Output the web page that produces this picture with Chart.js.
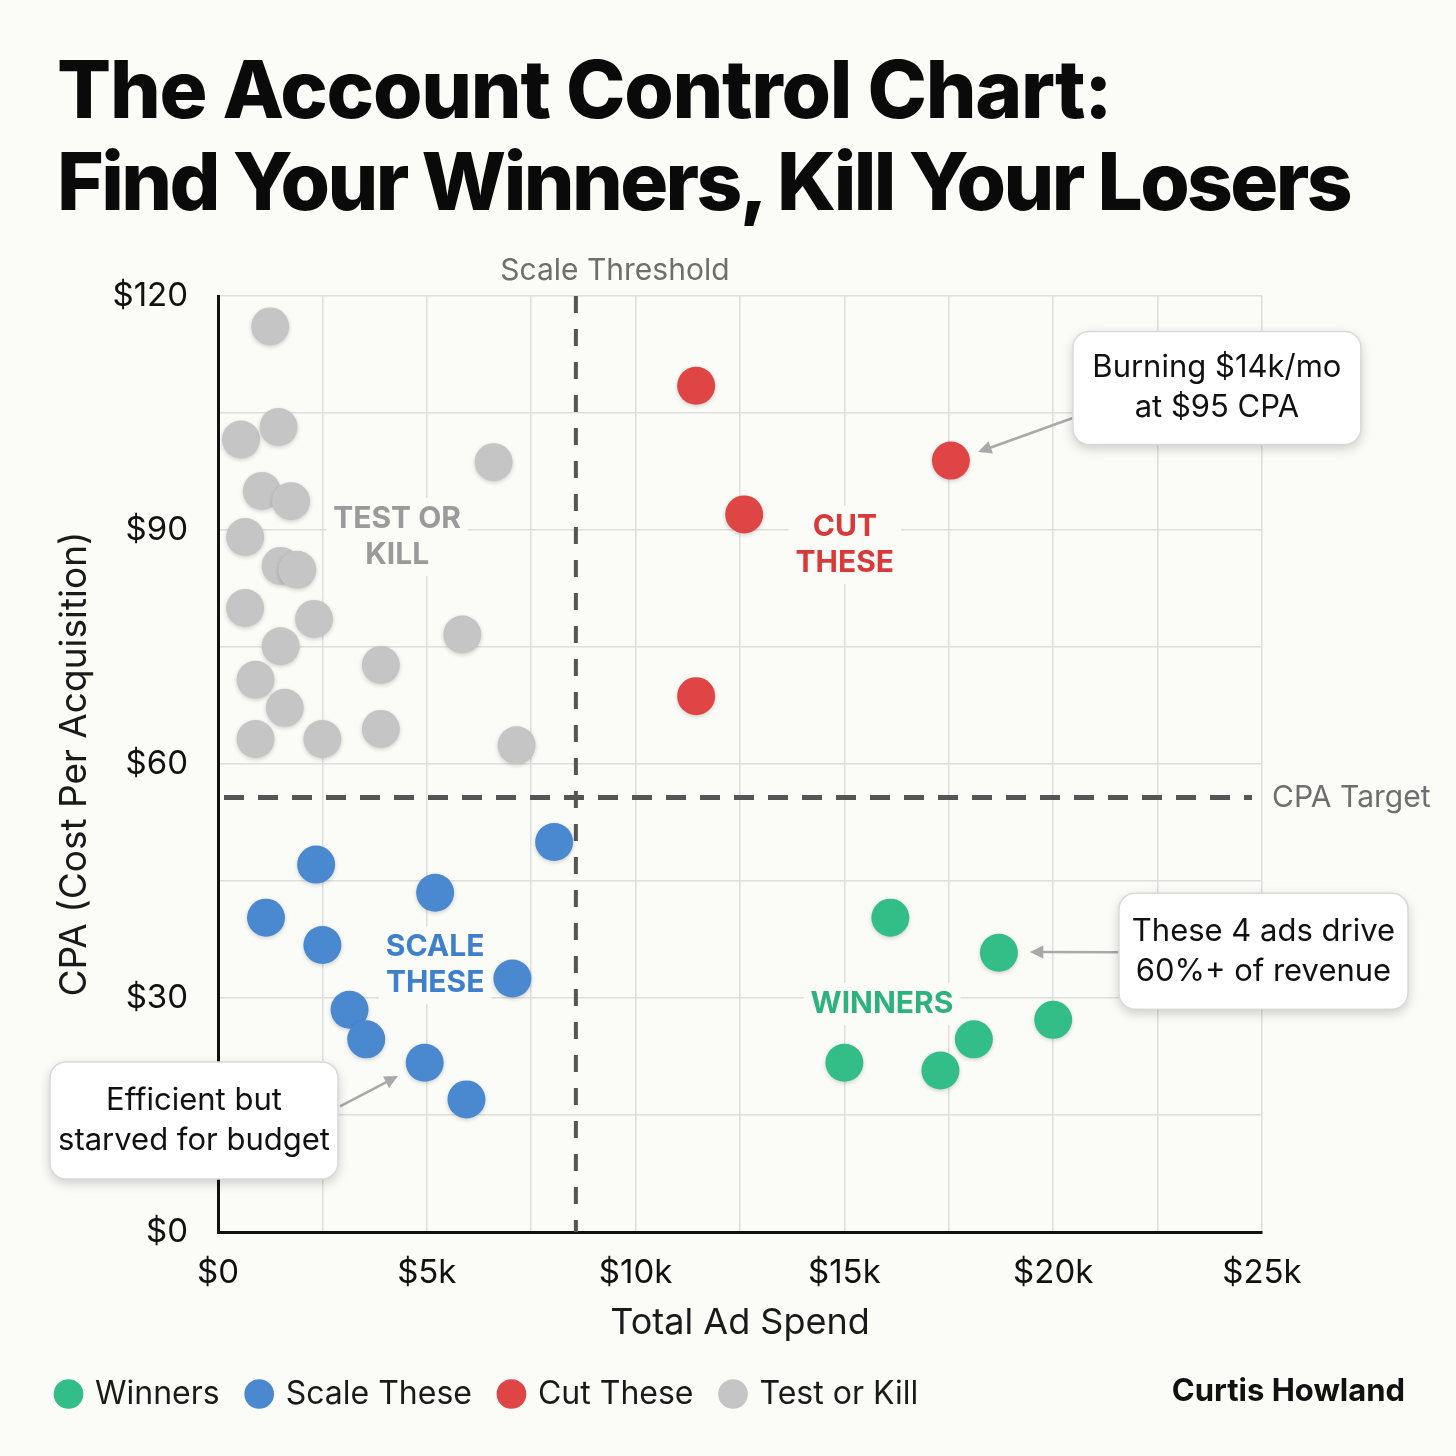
<!DOCTYPE html>
<html>
<head>
<meta charset="utf-8">
<script src="https://cdn.jsdelivr.net/npm/chart.js@4.4.1/dist/chart.umd.min.js"></script>
<style>
  html, body { margin: 0; padding: 0; background: #fbfbf8; }
  #wrap { position: relative; width: 1456px; height: 1456px; }
  h1 {
    position: absolute; left: 57px; top: 43px; margin: 0;
    font-family: Inter, "Noto Sans", sans-serif; font-weight: 800;
    font-size: 80px; line-height: 92px; color: #0a0a0a;
  }
  h1 span { display: block; white-space: nowrap; }
  h1 .l1 { letter-spacing: -1.25px; }
  h1 .l2 { letter-spacing: -2.6px; }
  canvas { position: absolute; left: 0; top: 0; }
</style>
</head>
<body>
<div id="wrap">
  <h1><span class="l1">The Account Control Chart:</span><span class="l2">Find Your Winners, Kill Your Losers</span></h1>
  <canvas id="controlChart" width="1456" height="1456"></canvas>
</div>
<script>
// ad spend ($) and CPA ($) per ad, by group
const winnersSpend = [16100, 18700, 20000, 18100, 15000, 17300];
const winnersCpa = [40.3, 35.8, 27.2, 24.7, 21.7, 20.7];

const scaleSpend = [8050, 2350, 5200, 1150, 2500, 7050, 3150, 3550, 4950, 5950];
const scaleCpa = [50.0, 47.1, 43.5, 40.3, 36.8, 32.5, 28.5, 24.7, 21.7, 17.0];

const cutSpend = [11450, 17550, 12600, 11450];
const cutCpa = [108.5, 98.9, 92.0, 68.7];

const testSpend = [1250, 550, 1450, 6600, 1050, 1750, 650, 1500, 1900, 650,
                   2300, 5850, 1500, 3900, 900, 1600, 900, 2500, 3900, 7150];
const testCpa = [116.1, 101.6, 103.2, 98.7, 95.0, 93.7, 89.1, 85.4, 84.9, 80.0,
                 78.6, 76.6, 75.1, 72.7, 70.8, 67.2, 63.2, 63.2, 64.5, 62.4];

const groupNames = ["Winners", "Scale These", "Cut These", "Test or Kill"];
const groupColors = ["#34be87", "#4a89d0", "#e04545", "#c5c5c5"];

const scaleThreshold = 8570;
const cpaTarget = 55.7;

const spendTicks = [0, 5000, 10000, 15000, 20000, 25000];
const cpaTicks = [0, 30, 60, 90, 120];

const FONT = "Inter, 'Noto Sans', sans-serif";
const BG = "#fbfbf8";

const toPoints = (xs, ys) => xs.map((x, i) => ({ x: x, y: ys[i] }));

// quadrant labels and callouts, anchored in data units
const zoneLabels = [
    { lines: ["TEST OR", "KILL"], at: [4290, 89.1], color: "#9a9a9a" },
    { lines: ["CUT", "THESE"], at: [15010, 88.1], color: "#d83a3a" },
    { lines: ["SCALE", "THESE"], at: [5200, 34.2], color: "#3f80cc" },
    { lines: ["WINNERS"], at: [15900, 29.2], color: "#2db27e" },
];

const callouts = [
    { lines: ["Burning $14k/mo", "at $95 CPA"], at: [23920, 108.2], w: 288, h: 113, from: [-144, 30], to: [18200, 100.0] },
    { lines: ["These 4 ads drive", "60%+ of revenue"], at: [25035, 36.0], w: 289, h: 116, from: [-145, 1], to: [19440, 35.9] },
    { lines: ["Efficient but", "starved for budget"], at: [-575, 14.3], w: 288, h: 117, from: [146, -14], to: [4310, 20.0] },
];

function px(chart, x, y) {
    return [chart.scales.x.getPixelForValue(x), chart.scales.y.getPixelForValue(y)];
}

function roundRect(ctx, x, y, w, h, r) {
    ctx.beginPath();
    ctx.moveTo(x + r, y);
    ctx.arcTo(x + w, y, x + w, y + h, r);
    ctx.arcTo(x + w, y + h, x, y + h, r);
    ctx.arcTo(x, y + h, x, y, r);
    ctx.arcTo(x, y, x + w, y, r);
    ctx.closePath();
}

function arrow(ctx, x1, y1, x2, y2) {
    const a = Math.atan2(y2 - y1, x2 - x1);
    const head = 15;
    ctx.strokeStyle = "#a9a9a9";
    ctx.fillStyle = "#a9a9a9";
    ctx.lineWidth = 2.5;
    ctx.beginPath();
    ctx.moveTo(x1, y1);
    ctx.lineTo(x2 - Math.cos(a) * head * 0.8, y2 - Math.sin(a) * head * 0.8);
    ctx.stroke();
    ctx.beginPath();
    ctx.moveTo(x2, y2);
    ctx.lineTo(x2 - head * Math.cos(a - 0.45), y2 - head * Math.sin(a - 0.45));
    ctx.lineTo(x2 - head * Math.cos(a + 0.45), y2 - head * Math.sin(a + 0.45));
    ctx.closePath();
    ctx.fill();
}

const guidesPlugin = {
    id: "guides",
    beforeDatasetsDraw(chart) {
        const { ctx, chartArea } = chart;
        const tx = chart.scales.x.getPixelForValue(scaleThreshold);
        const ty = chart.scales.y.getPixelForValue(cpaTarget);
        ctx.save();
        ctx.strokeStyle = "#555555";
        ctx.lineWidth = 5;

        ctx.setLineDash([20, 14]);
        ctx.beginPath();
        ctx.moveTo(chartArea.left + 6, ty);
        ctx.lineTo(chartArea.right - 10, ty);
        ctx.stroke();

        ctx.lineWidth = 4;
        ctx.setLineDash([17, 16]);
        ctx.beginPath();
        ctx.moveTo(tx, chartArea.top);
        ctx.lineTo(tx, chartArea.bottom);
        ctx.stroke();
        ctx.setLineDash([]);

        ctx.fillStyle = "#6e6e6e";
        ctx.font = "30px " + FONT;
        ctx.textBaseline = "middle";
        ctx.textAlign = "center";
        ctx.fillText("Scale Threshold", tx + 39, chartArea.top - 25);
        ctx.textAlign = "left";
        ctx.fillText("CPA Target", chartArea.right + 10, ty);

        // quadrant labels with a background that masks the grid
        ctx.font = "bold 30px " + FONT;
        zoneLabels.forEach((z) => {
            const [cx, cy] = px(chart, z.at[0], z.at[1]);
            const lh = 36;
            const w = Math.max(...z.lines.map((l) => ctx.measureText(l).width)) + 14;
            const h = lh * z.lines.length + 6;
            ctx.fillStyle = BG;
            ctx.fillRect(cx - w / 2, cy - h / 2, w, h);
            ctx.fillStyle = z.color;
            ctx.textAlign = "center";
            z.lines.forEach((l, i) => {
                ctx.fillText(l, cx, cy + (i - (z.lines.length - 1) / 2) * lh);
            });
        });
        ctx.restore();
    },
    beforeDatasetDraw(chart) {
        const ctx = chart.ctx;
        ctx.save();
        ctx.shadowColor = "rgba(0,0,0,0.18)";
        ctx.shadowBlur = 4;
        ctx.shadowOffsetY = 1.5;
    },
    afterDatasetDraw(chart) {
        chart.ctx.restore();
    },
    afterDatasetsDraw(chart) {
        const ctx = chart.ctx;
        ctx.save();
        callouts.forEach((c) => {
            const [cx, cy] = px(chart, c.at[0], c.at[1]);
            const [ex, ey] = px(chart, c.to[0], c.to[1]);
            arrow(ctx, cx + c.from[0], cy + c.from[1], ex, ey);

            ctx.save();
            ctx.shadowColor = "rgba(0,0,0,0.2)";
            ctx.shadowBlur = 12;
            ctx.shadowOffsetY = 4;
            roundRect(ctx, cx - c.w / 2, cy - c.h / 2, c.w, c.h, 16);
            ctx.fillStyle = "#ffffff";
            ctx.fill();
            ctx.restore();
            roundRect(ctx, cx - c.w / 2, cy - c.h / 2, c.w, c.h, 16);
            ctx.strokeStyle = "#d9d9d9";
            ctx.lineWidth = 1.5;
            ctx.stroke();

            ctx.fillStyle = "#111111";
            ctx.font = "31px " + FONT;
            ctx.textAlign = "center";
            ctx.textBaseline = "middle";
            c.lines.forEach((l, i) => {
                ctx.fillText(l, cx, cy + (i - 0.5) * 40);
            });
        });
        ctx.restore();
    },
    afterDraw(chart) {
        const ctx = chart.ctx;
        ctx.save();
        ctx.fillStyle = "#111111";
        ctx.font = "bold 31px " + FONT;
        ctx.textAlign = "right";
        ctx.textBaseline = "middle";
        ctx.fillText("Curtis Howland", 1405, 1392);
        ctx.restore();
    },
};

const series = [
    toPoints(winnersSpend, winnersCpa),
    toPoints(scaleSpend, scaleCpa),
    toPoints(cutSpend, cutCpa),
    toPoints(testSpend, testCpa),
];

new Chart(document.getElementById("controlChart"), {
    type: "scatter",
    data: {
        datasets: series.map((pts, i) => ({
            label: groupNames[i],
            data: pts,
            backgroundColor: groupColors[i],
            borderColor: groupColors[i],
            borderWidth: 0,
            pointRadius: 19,
            pointHoverRadius: 19,
        })),
    },
    options: {
        responsive: false,
        animation: false,
        layout: { padding: { top: 296, left: 29, right: 194, bottom: 36 } },
        plugins: {
            tooltip: { enabled: false },
            title: { display: false },
            legend: {
                position: "bottom",
                align: "start",
                labels: {
                    usePointStyle: true,
                    pointStyle: "circle",
                    boxWidth: 21,
                    boxHeight: 21,
                    padding: 29,
                    color: "#1a1a1a",
                    font: { family: FONT, size: 32 },
                },
            },
        },
        scales: {
            x: {
                type: "linear",
                min: 0,
                max: 25000,
                afterFit(scale) { scale.height = 117; },
                grid: { color: "#dedede", lineWidth: 1.5, drawTicks: false },
                border: { display: true, color: "#111111", width: 3 },
                ticks: {
                    stepSize: 2500,
                    padding: 21,
                    color: "#111111",
                    font: { family: FONT, size: 33 },
                    callback: (v) => spendTicks.includes(v) ? (v === 0 ? "$0" : "$" + v / 1000 + "k") : "",
                },
                title: {
                    display: true,
                    text: "Total Ad Spend",
                    color: "#1a1a1a",
                    padding: { top: 0, bottom: 4 },
                    font: { family: FONT, size: 36 },
                },
            },
            y: {
                min: 0,
                max: 120,
                afterFit(scale) { scale.width = 189; },
                grid: { color: "#dedede", lineWidth: 1.5, drawTicks: false },
                border: { display: true, color: "#111111", width: 3 },
                ticks: {
                    stepSize: 15,
                    padding: 30,
                    color: "#111111",
                    font: { family: FONT, size: 33 },
                    callback: (v) => cpaTicks.includes(v) ? "$" + v : "",
                },
                title: {
                    display: true,
                    text: "CPA (Cost Per Acquisition)",
                    color: "#1a1a1a",
                    padding: { top: 24, bottom: 0 },
                    font: { family: FONT, size: 37 },
                },
            },
        },
    },
    plugins: [guidesPlugin],
});
</script>
</body>
</html>
